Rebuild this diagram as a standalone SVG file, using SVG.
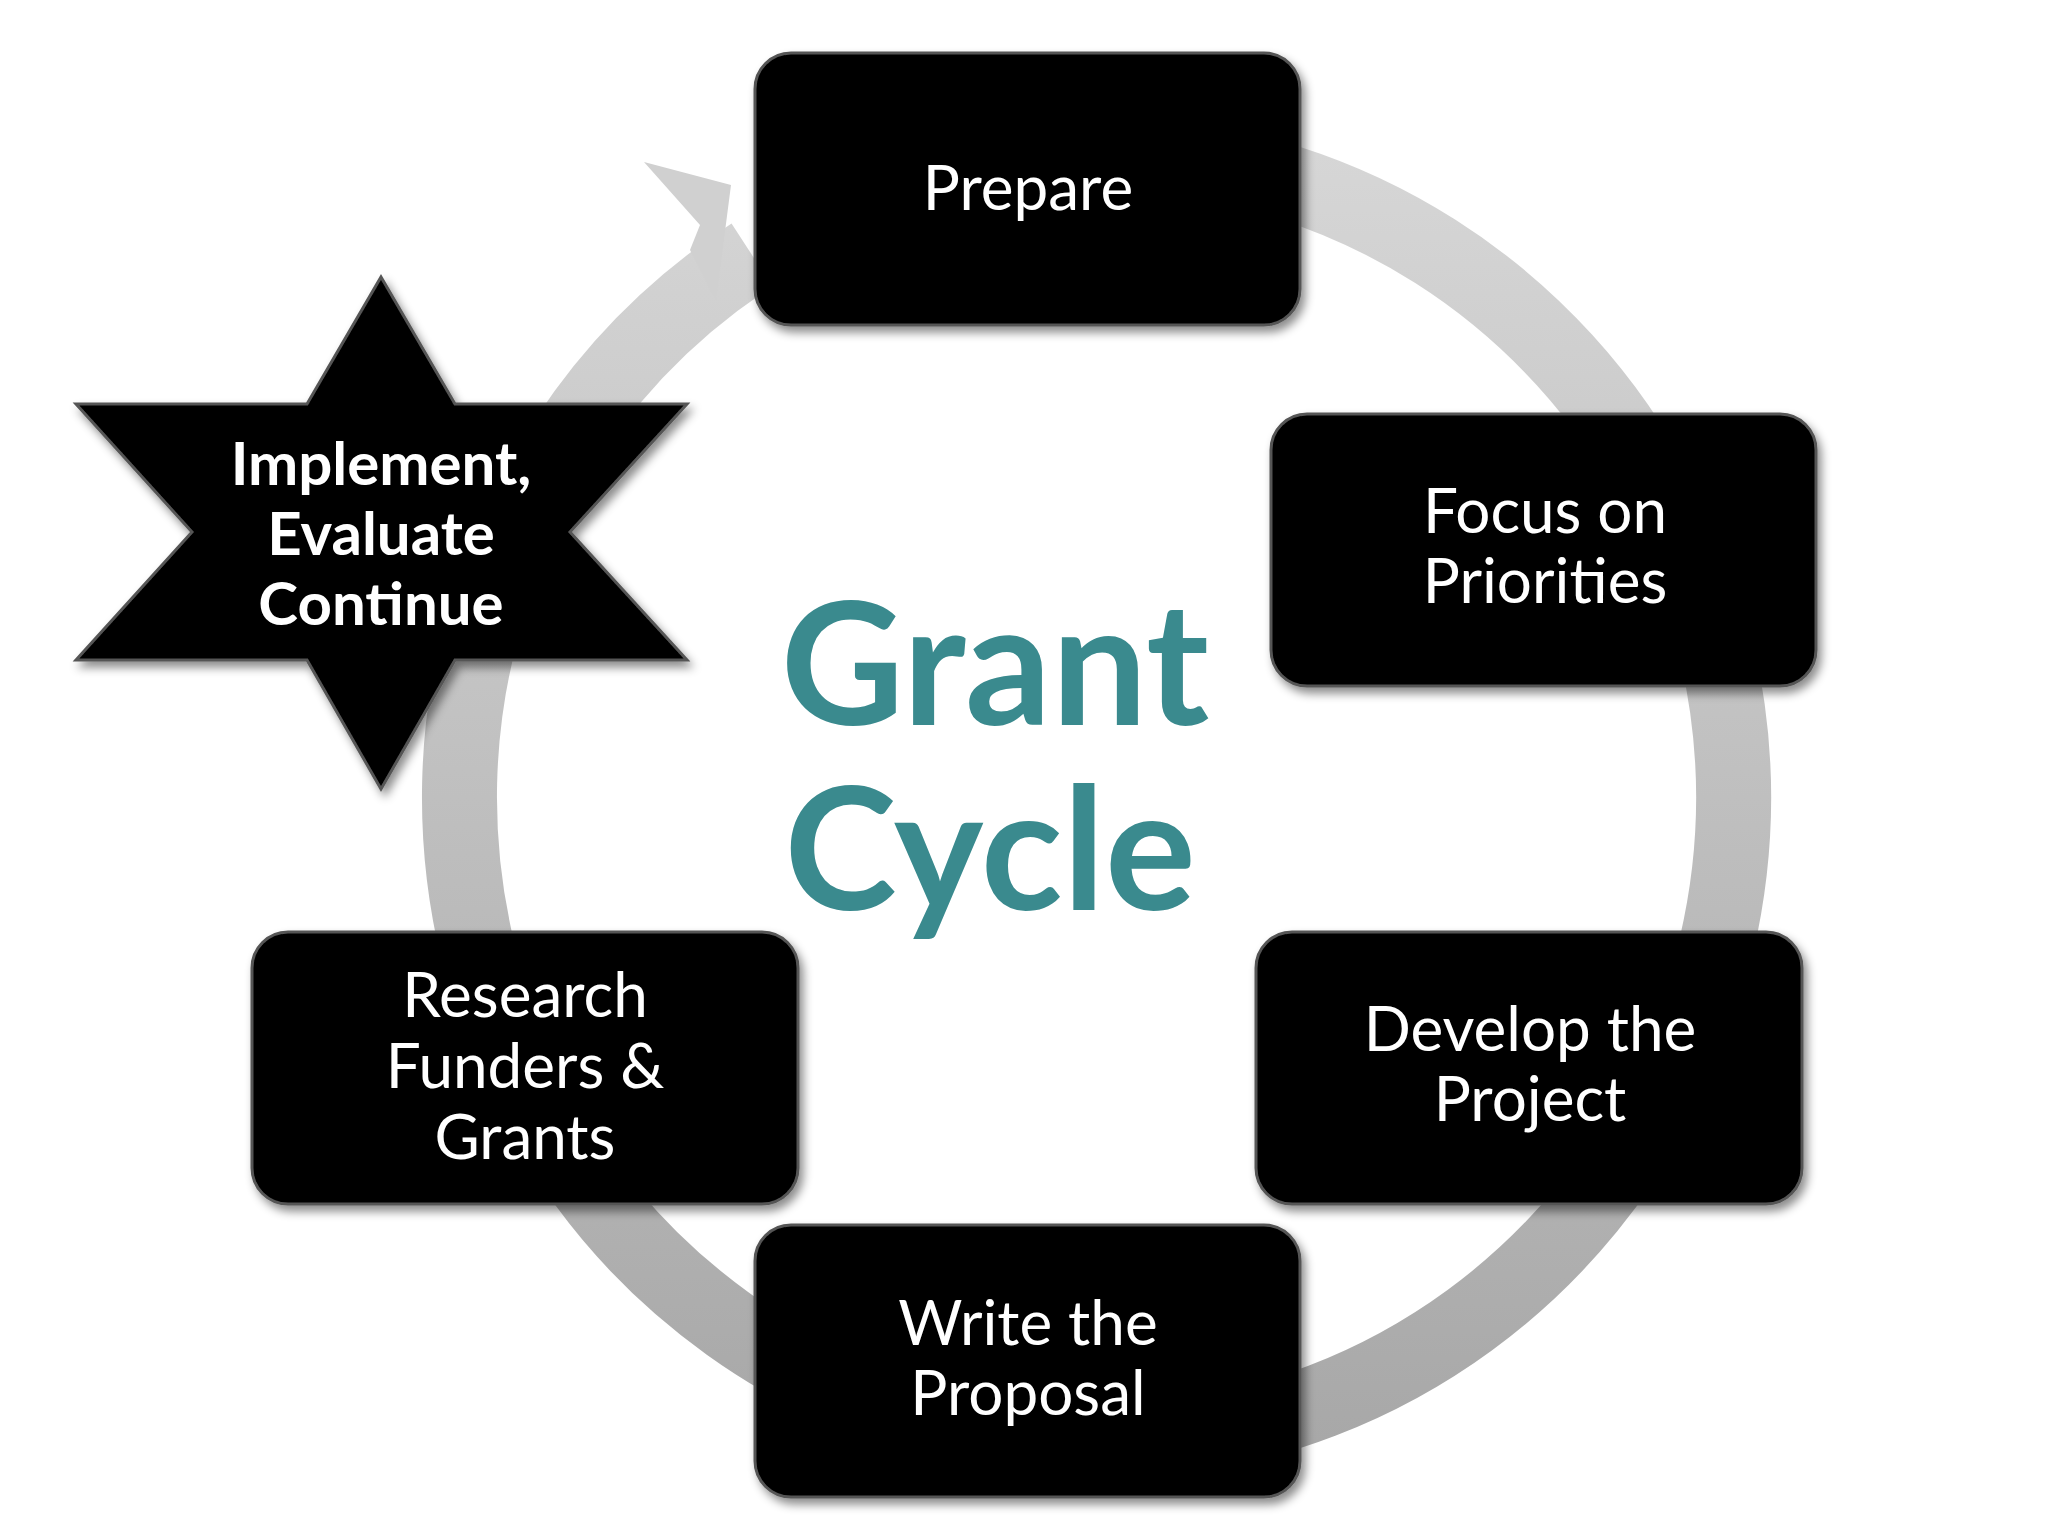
<svg xmlns="http://www.w3.org/2000/svg" width="2048" height="1536" viewBox="0 0 2048 1536">
<style>
.box{fill:#000;stroke:#555;stroke-width:3}
.t{font-family:Lato,"Liberation Sans",sans-serif;font-size:62px;fill:#fff;text-anchor:middle}
.s{font-family:Lato,"Liberation Sans",sans-serif;font-size:60px;font-weight:bold;fill:#fff;text-anchor:middle}
.g{font-family:Lato,"Liberation Sans",sans-serif;font-size:170px;font-weight:bold;fill:#3a8a8e;text-anchor:middle}
</style>
<defs>
<filter id="sh" x="-10%" y="-10%" width="130%" height="130%"><feDropShadow dx="4" dy="6" stdDeviation="5" flood-opacity="0.45"/></filter>
<linearGradient id="rg" x1="0" y1="0" x2="0" y2="1"><stop offset="0" stop-color="#d6d6d6"/><stop offset="1" stop-color="#a8a8a8"/></linearGradient>
</defs>
<rect width="2048" height="1536" fill="#fff"/>
<g id="connectors">
<path d="M 752 255 A 637 645 0 1 0 1000 160" fill="none" stroke="url(#rg)" stroke-width="75"/>
<polygon points="644,162 731,185 716,301 690,250 700,225" fill="#d0d0d0"/>
</g>
<g id="prepare" filter="url(#sh)"><rect class="box" x="755" y="53" width="545" height="272" rx="36"/><text class="t" x="1028" y="210">Prepare</text></g>
<g id="focus" filter="url(#sh)"><rect class="box" x="1271" y="414" width="545" height="272" rx="36"/><text class="t" x="1545" y="533">Focus on</text><text class="t" x="1545" y="603">Priorities</text></g>
<g id="develop" filter="url(#sh)"><rect class="box" x="1256" y="932" width="546" height="272" rx="36"/><text class="t" x="1530" y="1051">Develop the</text><text class="t" x="1530" y="1121">Project</text></g>
<g id="write" filter="url(#sh)"><rect class="box" x="755" y="1225" width="545" height="272" rx="36"/><text class="t" x="1028" y="1345">Write the</text><text class="t" x="1028" y="1415">Proposal</text></g>
<g id="research" filter="url(#sh)"><rect class="box" x="252" y="932" width="546" height="272" rx="36"/><text class="t" x="525" y="1017">Research</text><text class="t" x="525" y="1088">Funders &amp;</text><text class="t" x="525" y="1159">Grants</text></g>
<g id="implement" filter="url(#sh)"><polygon points="381,277 455,404 687,404 570,532 687,660 455,660 381,789 307,660 76,660 192,532 76,404 307,404" fill="#000" stroke="#555" stroke-width="3"/><text class="s" x="381" y="485">Implement,</text><text class="s" x="381" y="555">Evaluate</text><text class="s" x="381" y="625">Continue</text></g>
<g id="title"><text class="g" x="995" y="725">Grant</text><text class="g" x="990" y="910">Cycle</text></g>
</svg>
